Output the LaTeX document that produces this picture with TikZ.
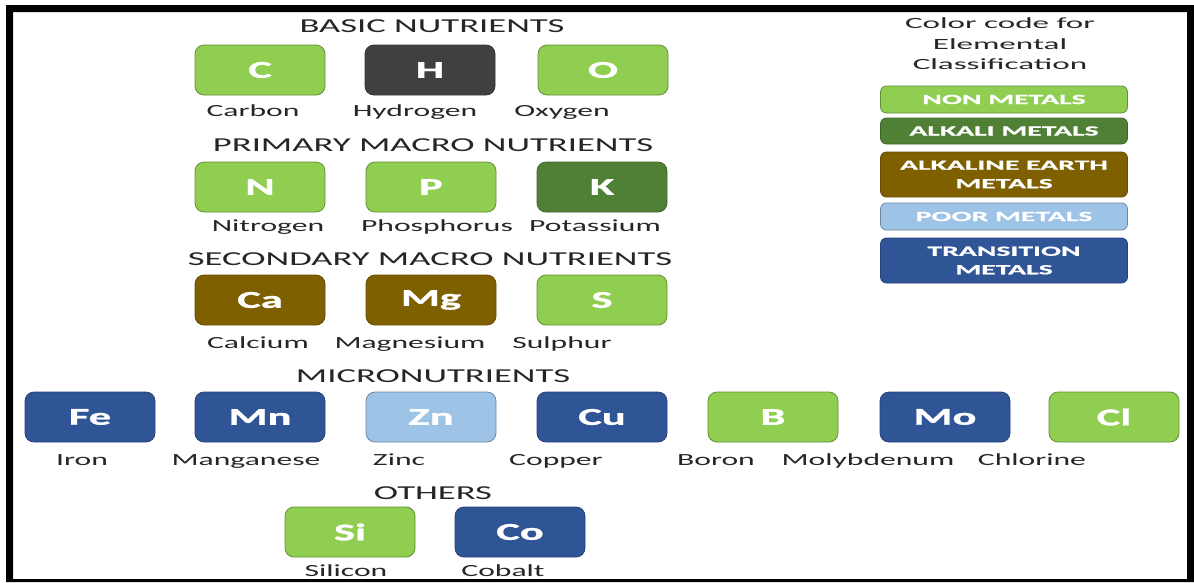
\documentclass[tikz,border=0pt]{standalone}
\usepackage{fontspec}
\setmainfont{Carlito}
\newfontfamily\stretchfont[FakeStretch=1.86, BoldFeatures={FakeBold=1.2}]{Carlito}
\newfontfamily\keyfont[FakeStretch=2.12, BoldFeatures={FakeBold=1}]{Carlito}

\definecolor{nonmetal}{HTML}{8FCE50}
\definecolor{alkali}{HTML}{4F8035}
\definecolor{earth}{HTML}{7F6000}
\definecolor{poor}{HTML}{9DC3E6}
\definecolor{transition}{HTML}{2F5597}
\definecolor{hydro}{HTML}{404040}
\definecolor{ink}{HTML}{262626}

\tikzset{
  elem/.style={rounded corners=9pt, minimum width=130pt, minimum height=50pt,
    inner sep=0pt, line width=0.8pt, text=white,
    font=\stretchfont\bfseries\fontsize{24}{26}\selectfont},
  nonmetal/.style={elem, fill=nonmetal, draw=nonmetal!70!black},
  alkali/.style={elem, fill=alkali, draw=alkali!80!black},
  earth/.style={elem, fill=earth, draw=earth!80!black},
  poor/.style={elem, fill=poor, draw=poor!70!black},
  transition/.style={elem, fill=transition, draw=transition!80!black},
  hydrogen/.style={elem, fill=hydro, draw=hydro!80!black},
  heading/.style={text=ink, inner sep=0pt, anchor=base,
    font=\stretchfont\fontsize{19.7}{22}\selectfont},
  elname/.style={text=ink, inner sep=0pt, anchor=base,
    font=\stretchfont\fontsize{17}{20}\selectfont},
  keybox/.style={rounded corners=6pt, minimum width=247pt, inner sep=0pt,
    line width=0.8pt, text=white, align=center,
    font=\keyfont\bfseries\fontsize{14}{18.5}\selectfont},
}

\begin{document}
\begin{tikzpicture}[x=1pt, y=-1pt]
  % page and frame
  \useasboundingbox (0,0) rectangle (1194,582);
  \fill[white] (0,0) rectangle (1194,582);
  \fill[black, even odd rule] (6,5) rectangle (1194,582) (13,12) rectangle (1187,579);

  % basic nutrients
  \node[heading] (tBasic) at (432,32) {BASIC NUTRIENTS};
  \node[nonmetal] (C) at (260,70) {C};
  \node[hydrogen] (H) at (430,70) {H};
  \node[nonmetal] (O) at (603,70) {O};
  \node[elname] (nC) at (253,116) {Carbon};
  \node[elname] (nH) at (415,116) {Hydrogen};
  \node[elname] (nO) at (562,116) {Oxygen};

  % primary macro nutrients
  \node[heading] (tPrimary) at (433,151.5) {PRIMARY MACRO NUTRIENTS};
  \node[nonmetal] (N) at (260,187) {N};
  \node[nonmetal] (P) at (431,187) {P};
  \node[alkali] (K) at (602,187) {K};
  \node[elname] (nN) at (268,231.5) {Nitrogen};
  \node[elname] (nP) at (437,231.5) {Phosphorus};
  \node[elname] (nK) at (595,231.5) {Potassium};

  % secondary macro nutrients
  \node[heading] (tSecondary) at (430,265.5) {SECONDARY MACRO NUTRIENTS};
  \node[earth] (Ca) at (260,300) {Ca};
  \node[earth] (Mg) at (431,300) {Mg};
  \node[nonmetal] (S) at (602,300) {S};
  \node[elname] (nCa) at (258,348) {Calcium};
  \node[elname] (nMg) at (410,348) {Magnesium};
  \node[elname] (nS) at (562,348) {Sulphur};

  % micronutrients
  \node[heading] (tMicro) at (433,382.5) {MICRONUTRIENTS};
  \node[transition] (Fe) at (90,417) {Fe};
  \node[transition] (Mn) at (260,417) {Mn};
  \node[poor] (Zn) at (431,417) {Zn};
  \node[transition] (Cu) at (602,417) {Cu};
  \node[nonmetal] (B) at (773,417) {B};
  \node[transition] (Mo) at (945,417) {Mo};
  \node[nonmetal] (Cl) at (1114,417) {Cl};
  \node[elname] (nFe) at (82,465) {Iron};
  \node[elname] (nMn) at (246,465) {Manganese};
  \node[elname] (nZn) at (399,465) {Zinc};
  \node[elname] (nCu) at (556,465) {Copper};
  \node[elname] (nB) at (716,465) {Boron};
  \node[elname] (nMo) at (868,465) {Molybdenum};
  \node[elname] (nCl) at (1032,465) {Chlorine};

  % others
  \node[heading] (tOthers) at (433,499.5) {OTHERS};
  \node[nonmetal] (Si) at (350,532) {Si};
  \node[transition] (Co) at (520,532) {Co};
  \node[elname] (nSi) at (346,576) {Silicon};
  \node[elname] (nCo) at (503,576) {Cobalt};

  % colour key
  \node[text=ink, align=center, inner sep=0pt,
        font=\keyfont\fontsize{15.6}{20.5}\selectfont] (keyTitle) at (1000,44)
        {Color code for\\Elemental\\Classification};
  \node[keybox, fill=nonmetal, draw=nonmetal!70!black, minimum height=27pt] (kNon) at (1004,99.5) {NON METALS};
  \node[keybox, fill=alkali, draw=alkali!80!black, minimum height=26pt] (kAlk) at (1004,131) {ALKALI METALS};
  \node[keybox, fill=earth, draw=earth!80!black, minimum height=45pt] (kEarth) at (1004,174.5) {ALKALINE EARTH\\METALS};
  \node[keybox, fill=poor, draw=poor!70!black, minimum height=27pt] (kPoor) at (1004,216.5) {POOR METALS};
  \node[keybox, fill=transition, draw=transition!80!black, minimum height=45pt] (kTrans) at (1004,260.5) {TRANSITION\\METALS};
\end{tikzpicture}
\end{document}
